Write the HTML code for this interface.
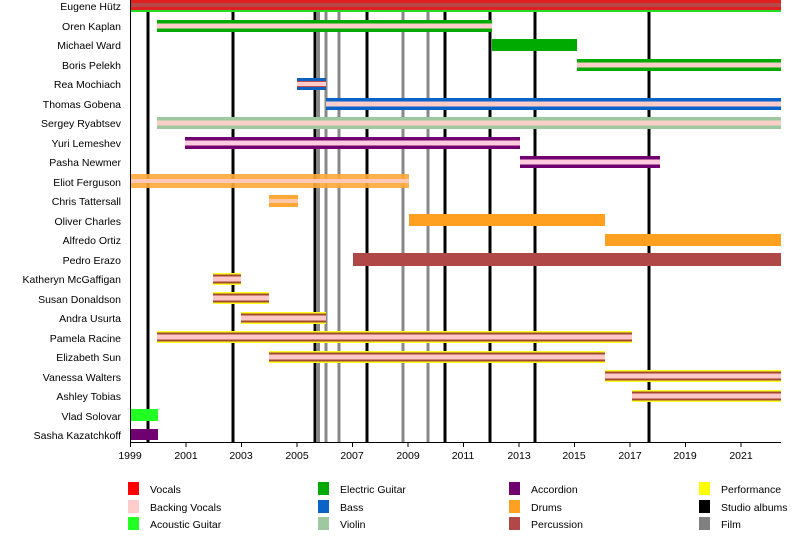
<!DOCTYPE html>
<html><head><meta charset="utf-8"><style>
body{margin:0;background:#fff;width:800px;height:560px;overflow:hidden}
svg{display:block;font-family:"Liberation Sans",sans-serif}
</style></head><body>
<svg width="800" height="560" viewBox="0 0 800 560">
<g font-size="10.5" fill="#000" text-anchor="end">
<text x="121" y="10">Eugene Hütz</text>
<text x="121" y="30">Oren Kaplan</text>
<text x="121" y="49">Michael Ward</text>
<text x="121" y="69">Boris Pelekh</text>
<text x="121" y="88">Rea Mochiach</text>
<text x="121" y="108">Thomas Gobena</text>
<text x="121" y="127">Sergey Ryabtsev</text>
<text x="121" y="147">Yuri Lemeshev</text>
<text x="121" y="166">Pasha Newmer</text>
<text x="121" y="186">Eliot Ferguson</text>
<text x="121" y="205">Chris Tattersall</text>
<text x="121" y="225">Oliver Charles</text>
<text x="121" y="244">Alfredo Ortiz</text>
<text x="121" y="264">Pedro Erazo</text>
<text x="121" y="283">Katheryn McGaffigan</text>
<text x="121" y="303">Susan Donaldson</text>
<text x="121" y="322">Andra Usurta</text>
<text x="121" y="342">Pamela Racine</text>
<text x="121" y="361">Elizabeth Sun</text>
<text x="121" y="381">Vanessa Walters</text>
<text x="121" y="400">Ashley Tobias</text>
<text x="121" y="420">Vlad Solovar</text>
<text x="121" y="439">Sasha Kazatchkoff</text>
</g>
<!-- vertical lines (behind bars) -->
<g stroke-width="3">
<line x1="148" y1="12" x2="148" y2="442" stroke="#000"/>
<line x1="233" y1="12" x2="233" y2="442" stroke="#000"/>
<line x1="315" y1="12" x2="315" y2="442" stroke="#000"/>
<line x1="318.5" y1="12" x2="318.5" y2="442" stroke="#888"/>
<line x1="326" y1="12" x2="326" y2="442" stroke="#888"/>
<line x1="339" y1="12" x2="339" y2="442" stroke="#888"/>
<line x1="367" y1="12" x2="367" y2="442" stroke="#000"/>
<line x1="403" y1="12" x2="403" y2="442" stroke="#888"/>
<line x1="428" y1="12" x2="428" y2="442" stroke="#888"/>
<line x1="445" y1="12" x2="445" y2="442" stroke="#000"/>
<line x1="490" y1="12" x2="490" y2="442" stroke="#000"/>
<line x1="535" y1="12" x2="535" y2="442" stroke="#000"/>
<line x1="649" y1="12" x2="649" y2="442" stroke="#000"/>
</g>
<!-- bars -->
<g>
<rect x="130" y="0" width="651" height="12" fill="#22dd22"/>
<rect x="130" y="0" width="651" height="10" fill="#e02020"/>
<rect x="130" y="3" width="651" height="4" fill="#b84848"/>

<rect x="157" y="20" width="335" height="12" fill="#00aa00"/><rect x="157" y="23.5" width="335" height="5" fill="#ffcccc"/>
<rect x="492" y="39" width="85" height="12" fill="#00aa00"/>
<rect x="577" y="59" width="204" height="12" fill="#00aa00"/><rect x="577" y="62.5" width="204" height="5" fill="#ffcccc"/>
<rect x="297" y="78" width="29" height="12" fill="#1060c0"/><rect x="297" y="81" width="29" height="6" fill="#c05050"/><rect x="297" y="82" width="29" height="4" fill="#ffcccc"/>
<rect x="326" y="98" width="455" height="12" fill="#0a64c8"/><rect x="326" y="101.5" width="455" height="5" fill="#ffcccc"/>
<rect x="157" y="117" width="624" height="12" fill="#a0c8a0"/><rect x="157" y="120.5" width="624" height="5" fill="#f8d0c8"/>
<rect x="185" y="137" width="335" height="12" fill="#700070"/><rect x="185" y="140.5" width="335" height="5" fill="#ffccdd"/>
<rect x="520" y="156" width="140" height="12" fill="#700070"/><rect x="520" y="159.5" width="140" height="5" fill="#ffccdd"/>
<rect x="130" y="174" width="279" height="14" fill="#ffa838" opacity="0.9"/><rect x="130" y="179" width="279" height="4" fill="#ffc8b8"/>
<rect x="269" y="195" width="29" height="12" fill="#ffa838"/><rect x="269" y="199" width="29" height="4" fill="#ffc8a8"/>
<rect x="409" y="214" width="196" height="12" fill="#ffa020"/>
<rect x="605" y="234" width="176" height="12" fill="#ffa020"/>
<rect x="353" y="253" width="428" height="13" fill="#b04848"/>
</g>
<g>
<rect x="213" y="273" width="28" height="12" fill="#ffff20"/><rect x="213" y="274.5" width="28" height="9" fill="#a04830"/><rect x="213" y="276.5" width="28" height="5" fill="#ffc8c8"/>
<rect x="213" y="292" width="56" height="12" fill="#ffff20"/><rect x="213" y="293.5" width="56" height="9" fill="#a04830"/><rect x="213" y="295.5" width="56" height="5" fill="#ffc8c8"/>
<rect x="241" y="312" width="85" height="12" fill="#ffff20"/><rect x="241" y="313.5" width="85" height="9" fill="#a04830"/><rect x="241" y="315.5" width="85" height="5" fill="#ffc8c8"/>
<rect x="157" y="331" width="475" height="12" fill="#ffff20"/><rect x="157" y="332.5" width="475" height="9" fill="#a04830"/><rect x="157" y="334.5" width="475" height="5" fill="#ffc8c8"/>
<rect x="269" y="351" width="336" height="12" fill="#ffff20"/><rect x="269" y="352.5" width="336" height="9" fill="#a04830"/><rect x="269" y="354.5" width="336" height="5" fill="#ffc8c8"/>
<rect x="605" y="370" width="176" height="12" fill="#ffff20"/><rect x="605" y="371.5" width="176" height="9" fill="#a04830"/><rect x="605" y="373.5" width="176" height="5" fill="#ffc8c8"/>
<rect x="632" y="390" width="149" height="12" fill="#ffff20"/><rect x="632" y="391.5" width="149" height="9" fill="#a04830"/><rect x="632" y="393.5" width="149" height="5" fill="#ffc8c8"/>
<rect x="130" y="409" width="28" height="12" fill="#22ff22"/>
<rect x="130" y="429" width="28" height="11" fill="#700070"/>
</g>
<!-- axes -->
<line x1="130.5" y1="0" x2="130.5" y2="442" stroke="#000"/>
<line x1="130" y1="442.5" x2="781" y2="442.5" stroke="#000"/>
<g stroke="#000">
<line x1="130.5" y1="442" x2="130.5" y2="447"/><line x1="186" y1="442" x2="186" y2="447"/><line x1="241.5" y1="442" x2="241.5" y2="447"/><line x1="297" y1="442" x2="297" y2="447"/><line x1="352.5" y1="442" x2="352.5" y2="447"/><line x1="408" y1="442" x2="408" y2="447"/><line x1="463.5" y1="442" x2="463.5" y2="447"/><line x1="519" y1="442" x2="519" y2="447"/><line x1="574.5" y1="442" x2="574.5" y2="447"/><line x1="630" y1="442" x2="630" y2="447"/><line x1="685.5" y1="442" x2="685.5" y2="447"/><line x1="741" y1="442" x2="741" y2="447"/>
</g>
<g font-size="10.5" text-anchor="middle">
<text x="130" y="459">1999</text><text x="186" y="459">2001</text><text x="241" y="459">2003</text><text x="297" y="459">2005</text><text x="352" y="459">2007</text><text x="408" y="459">2009</text><text x="463" y="459">2011</text><text x="519" y="459">2013</text><text x="574" y="459">2015</text><text x="630" y="459">2017</text><text x="685" y="459">2019</text><text x="741" y="459">2021</text>
</g>
<!-- legend -->
<g font-size="10.5">
<rect x="128" y="482" width="11" height="13" fill="#ff0000"/><text x="150" y="493">Vocals</text>
<rect x="128" y="500" width="11" height="13" fill="#ffcccc"/><text x="150" y="511">Backing Vocals</text>
<rect x="128" y="517" width="11" height="13" fill="#22ff22"/><text x="150" y="528">Acoustic Guitar</text>
<rect x="318" y="482" width="11" height="13" fill="#00aa00"/><text x="340" y="493">Electric Guitar</text>
<rect x="318" y="500" width="11" height="13" fill="#0a64c8"/><text x="340" y="511">Bass</text>
<rect x="318" y="517" width="11" height="13" fill="#a0c8a0"/><text x="340" y="528">Violin</text>
<rect x="509" y="482" width="11" height="13" fill="#700070"/><text x="531" y="493">Accordion</text>
<rect x="509" y="500" width="11" height="13" fill="#ffa020"/><text x="531" y="511">Drums</text>
<rect x="509" y="517" width="11" height="13" fill="#b04848"/><text x="531" y="528">Percussion</text>
<rect x="699" y="482" width="11" height="13" fill="#ffff00"/><text x="721" y="493">Performance</text>
<rect x="699" y="500" width="11" height="13" fill="#000"/><text x="721" y="511">Studio albums</text>
<rect x="699" y="517" width="11" height="13" fill="#808080"/><text x="721" y="528">Film</text>
</g>
</svg>
</body></html>
